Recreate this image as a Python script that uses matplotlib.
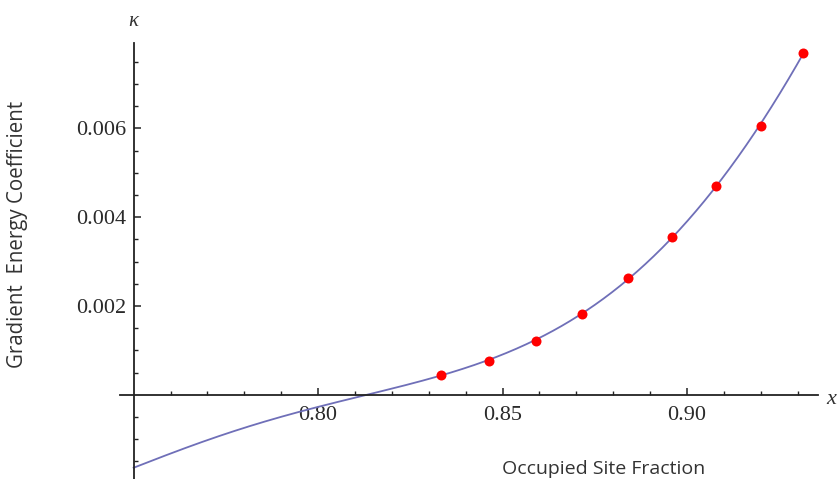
import numpy as np
import matplotlib
matplotlib.use("Agg")
import matplotlib.pyplot as plt
from matplotlib.ticker import FixedLocator

plt.rcParams["font.family"] = ["Liberation Serif", "DejaVu Serif"]

# Measured gradient energy coefficient vs occupied site fraction
site_fraction = [0.8333, 0.8462, 0.8590, 0.8715, 0.8839, 0.8960, 0.9079, 0.9200, 0.9315]
kappa = [0.00044, 0.00075, 0.00122, 0.00183, 0.00262, 0.00356, 0.00471, 0.00606, 0.00771]

# Fitted curve anchor values on the low-fraction side
curve_x = [0.750, 0.760, 0.770, 0.780, 0.790, 0.800, 0.810, 0.813, 0.820]
curve_y = [-0.00164, -0.00133, -0.00103, -0.00075, -0.00050, -0.00027, -0.00006, 0.0, 0.00015]

x_major = [0.80, 0.85, 0.90]
x_labels = ["0.80", "0.85", "0.90"]
y_major = [0.002, 0.004, 0.006]
y_labels = ["0.002", "0.004", "0.006"]

fig = plt.figure(figsize=(8.38, 4.79), dpi=100)
ax = fig.add_axes([120 / 838, 0.0, (818 - 120) / 838, (479 - 43.3) / 479])

# polynomial fit through all points, drawn over the plotted range
fx = np.array(curve_x + site_fraction)
fy = np.array(curve_y + kappa)
coef = np.polyfit(fx, fy, 5)
xs = np.linspace(0.75, site_fraction[-1], 400)
ax.plot(xs, np.polyval(coef, xs), color="#6f6fb8", lw=1.3, zorder=2)

ax.plot(site_fraction, kappa, "o", color="#ff0000", ms=7.2, mec="none", zorder=3)

ax.set_xlim(0.7463, 0.9355)
ax.set_ylim(-0.0019, 0.00792)

for s in ("top", "right"):
    ax.spines[s].set_visible(False)
ax.spines["left"].set_position(("data", 0.75))
ax.spines["bottom"].set_position(("data", 0.0))
for s in ("left", "bottom"):
    ax.spines[s].set_linewidth(1.3)
    ax.spines[s].set_color("#222222")

ax.xaxis.set_major_locator(FixedLocator(x_major))
ax.set_xticklabels(x_labels)
ax.xaxis.set_minor_locator(FixedLocator([0.76, 0.77, 0.78, 0.79, 0.81, 0.82, 0.83, 0.84,
                                         0.86, 0.87, 0.88, 0.89, 0.91, 0.92, 0.93]))
ax.yaxis.set_major_locator(FixedLocator(y_major))
ax.set_yticklabels(y_labels)
ax.yaxis.set_minor_locator(FixedLocator([-0.0015, -0.001, -0.0005, 0.0005, 0.001, 0.0015,
                                         0.0025, 0.003, 0.0035, 0.0045, 0.005, 0.0055,
                                         0.0065, 0.007, 0.0075]))

ax.tick_params(axis="both", which="major", direction="in", length=5, width=1.1,
               color="#222222", labelsize=16, labelcolor="#2a2a2a")
ax.tick_params(axis="both", which="minor", direction="in", length=3, width=1.0,
               color="#222222")
ax.tick_params(axis="x", which="major", pad=8)
ax.tick_params(axis="y", which="major", pad=5)

fig.text(133 / 838, 1 - 21 / 479, "κ", ha="center", va="center",
         fontsize=15, style="italic", color="#333333")
fig.text(831 / 838, 1 - 399 / 479, "x", ha="center", va="center",
         fontsize=16, style="italic", color="#333333")
fig.text(604 / 838, 1 - 469 / 479, "Occupied Site Fraction", ha="center", va="center",
         fontsize=14, family="Open Sans", color="#333333")
fig.text(18 / 838, 1 - 234 / 479, "Gradient  Energy Coefficient", ha="center", va="center",
         rotation=90, fontsize=14.8, family="Open Sans", color="#333333")

fig.savefig("out.png", dpi=100)
